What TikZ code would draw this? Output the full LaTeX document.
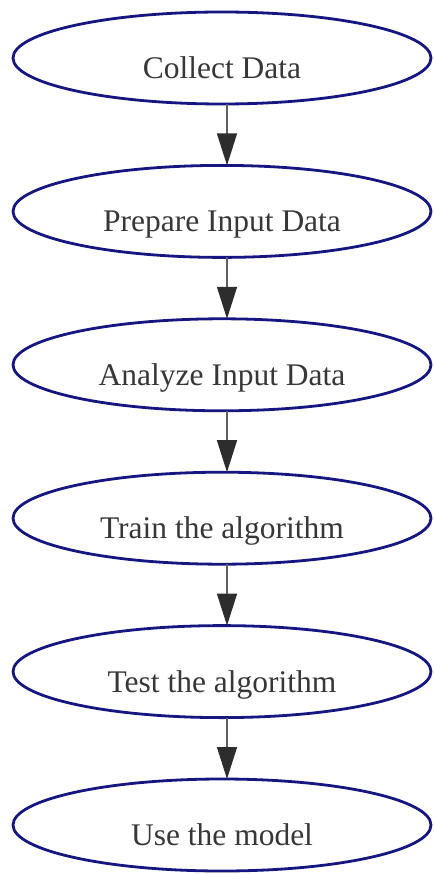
\documentclass[tikz,border=0pt]{standalone}
\usepackage{fontspec}
\setmainfont{Liberation Serif}
\usetikzlibrary{shapes.geometric,arrows.meta}
\definecolor{ovalblue}{RGB}{22,22,128}
\definecolor{txtgray}{RGB}{55,55,55}
\definecolor{shaftgray}{RGB}{95,95,95}
\definecolor{headgray}{RGB}{45,45,45}
\tikzset{
  oval/.style={ellipse, draw=ovalblue, line width=2.8pt, fill=white,
    minimum width=418pt, minimum height=92pt, inner sep=0pt,
    font=\fontsize{31.5}{34}\selectfont, text=txtgray,
    text height=41pt, text depth=0pt},
  flow/.style={draw=shaftgray, line width=1.4pt,
    -{Triangle[length=32pt,width=20pt,fill=headgray,color=headgray]}},
}
\begin{document}
\begin{tikzpicture}[x=1pt,y=1pt]
\useasboundingbox (0,0) rectangle (433,-874);
\node[oval] (e1) at (222,-58)    {Collect Data};
\node[oval] (e2) at (222,-211.4) {Prepare Input Data};
\node[oval] (e3) at (222,-364.8) {Analyze Input Data};
\node[oval] (e4) at (222,-518.2) {Train the algorithm};
\node[oval] (e5) at (222,-671.6) {Test the algorithm};
\node[oval] (e6) at (222,-825)   {Use the model};
\foreach \a/\b in {e1/e2,e2/e3,e3/e4,e4/e5,e5/e6}{
  \draw[flow] ([xshift=5pt,yshift=1.4pt]\a.south) -- ([xshift=5pt,yshift=-1.4pt]\b.north);
}
\end{tikzpicture}
\end{document}
